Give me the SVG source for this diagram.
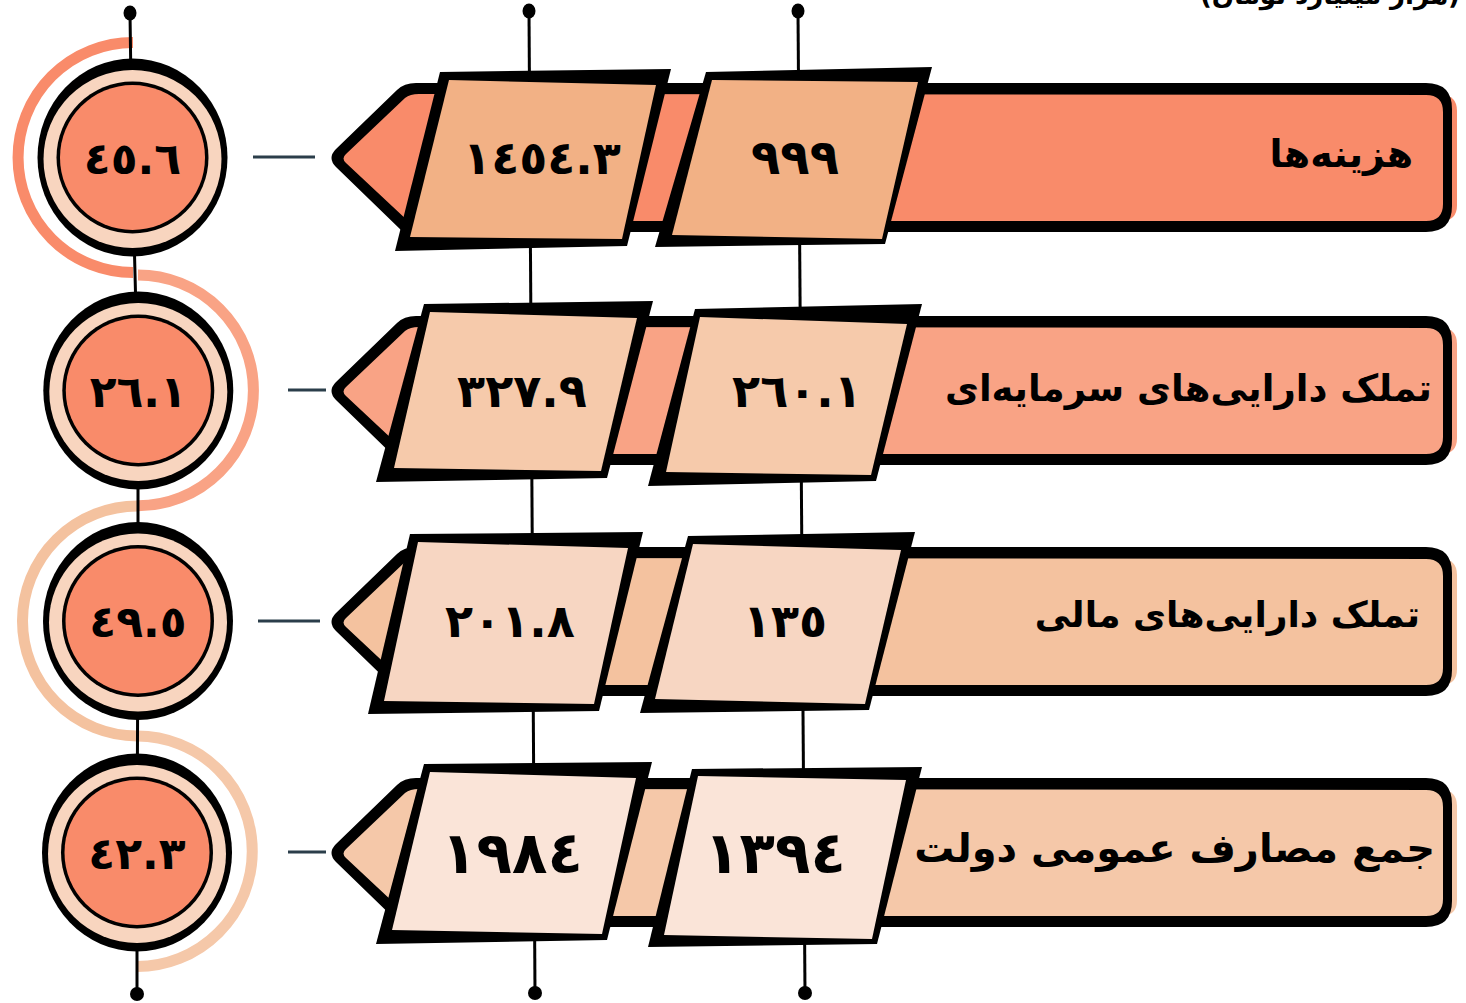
<svg xmlns="http://www.w3.org/2000/svg" width="1466" height="1003" viewBox="0 0 1466 1003">
<style>
.num{font-family:"DejaVu Sans",sans-serif;font-weight:bold;fill:#000;text-anchor:middle}
.lbl{font-family:"DejaVu Sans",sans-serif;font-weight:bold;fill:#000;text-anchor:end}
.blk{fill:#000}
.vline{stroke:#000;stroke-width:3;fill:none}
.dash{stroke:#2B3E4A;stroke-width:3}
.arc{fill:none;stroke-width:11}
.ring{fill:#F8D5BF}
.core{fill:#F98B6A}
</style>
<defs>
<path id="bSliver" d="M 420,-62 L 1441,-62 Q 1457,-62 1457,-46 L 1457,48 Q 1457,64 1441,64 L 420,64 Z"/>
<path id="bBlack" d="M 336,-8 L 397,-67 Q 404,-74 416,-74 L 1426,-74 Q 1452,-74 1452,-48 L 1452,49 Q 1452,75 1426,75 L 403,75 L 336,10 Q 327,1 336,-8 Z"/>
<path id="bFill" d="M 346,-3 L 405,-59 Q 410,-63 419,-63 L 1426,-62 Q 1443,-62 1443,-45 L 1443,47 Q 1443,64 1426,64 L 408,64 L 346,6 Q 341,1.5 346,-3 Z"/>
<g id="badge">
<ellipse cx="0" cy="0" rx="95" ry="99" class="blk"/>
<circle cx="0" cy="1.5" r="89" class="ring"/>
<circle cx="0" cy="0" r="76" class="blk"/>
<circle cx="0" cy="0" r="72.5" class="core"/>
</g>
</defs>

<!-- decorative arcs -->
<g id="arcs">
<path class="arc" stroke="#F98B6A" d="M 133,42.5 A 115,115 0 0 0 133,272.5"/>
<path class="arc" stroke="#F9A385" d="M 138,275 A 115.4,115.4 0 0 1 138,505.8"/>
<path class="arc" stroke="#F4C29F" d="M 138,506 A 115,115 0 0 0 137,736"/>
<path class="arc" stroke="#F5C8A9" d="M 137,736 A 115.2,115.2 0 0 1 137,966.5"/>
</g>

<!-- connectors -->
<g id="connectors">
<polyline class="vline" points="130,13 132,157 138,390 138,621 137,852 137,993"/>
<line class="vline" x1="529" y1="11" x2="535" y2="993"/>
<line class="vline" x1="798" y1="11" x2="805" y2="993"/>
<ellipse cx="130" cy="13" rx="6.5" ry="7.5" class="blk"/>
<ellipse cx="529" cy="11" rx="6.5" ry="7.5" class="blk"/>
<ellipse cx="798" cy="11" rx="6.5" ry="7.5" class="blk"/>
<circle cx="137" cy="994" r="7" class="blk"/>
<circle cx="535" cy="993" r="7" class="blk"/>
<circle cx="805" cy="993" r="7" class="blk"/>
<line class="dash" x1="253" y1="157" x2="315" y2="157"/>
<line class="dash" x1="288" y1="390" x2="326" y2="390"/>
<line class="dash" x1="258" y1="621" x2="320" y2="621"/>
<line class="dash" x1="288" y1="852" x2="326" y2="852"/>
</g>

<!-- circles -->
<g id="circle1" transform="translate(132.5,157.5)"><use href="#badge"/><text class="num" x="0" y="16" font-size="44">٤٥.٦</text></g>
<g id="circle2" transform="translate(138.3,390.5)"><use href="#badge"/><text class="num" x="0" y="16" font-size="44">٢٦.١</text></g>
<g id="circle3" transform="translate(138,621)"><use href="#badge"/><text class="num" x="0" y="16" font-size="44">٤٩.٥</text></g>
<g id="circle4" transform="translate(137,852.5)"><use href="#badge"/><text class="num" x="0" y="16" font-size="44">٤٢.٣</text></g>

<!-- row 1 -->
<g id="row1">
<g transform="translate(0,157)" fill="#F98B6A"><use href="#bSliver"/><use href="#bBlack" fill="#000"/><use href="#bFill"/></g>
<polygon class="blk" points="440,72 671,69 627,246 395,251"/>
<polygon fill="#F2B185" points="449,80 656,85 622,239 410,237"/>
<polygon class="blk" points="706,72 932,67 885,244 655,247"/>
<polygon fill="#F2B185" points="712,80 918,82 882,239 672,235"/>
<text class="num" x="542" y="174" font-size="46">١٤٥٤.٣</text>
<text class="num" x="795" y="174" font-size="48">٩٩٩</text>
<text class="lbl" x="1413" y="167" font-size="38">هزینه&#x200C;ها</text>
</g>

<!-- row 2 -->
<g id="row2">
<g transform="translate(0,390)" fill="#F9A385"><use href="#bSliver"/><use href="#bBlack" fill="#000"/><use href="#bFill"/></g>
<polygon class="blk" points="424,304 653,301 607,478 376,482"/>
<polygon fill="#F6CAAB" points="430,312 637,318 601,471 394,468"/>
<polygon class="blk" points="695,309 922,304 876,481 648,486"/>
<polygon fill="#F6CAAB" points="700,317 907,324 871,475 666,472"/>
<text class="num" x="522" y="407" font-size="46">٣٢٧.٩</text>
<text class="num" x="797" y="407" font-size="46">٢٦٠.١</text>
<text class="lbl" x="1432" y="401" font-size="37">تملک دارایی&#x200C;های سرمایه&#x200C;ای</text>
</g>

<!-- row 3 -->
<g id="row3">
<g transform="translate(0,621)" fill="#F4C29F"><use href="#bSliver"/><use href="#bBlack" fill="#000"/><use href="#bFill"/></g>
<polygon class="blk" points="410,534 643,532 599,711 368,714"/>
<polygon fill="#F7D6C2" points="418,542 628,548 594,704 384,701"/>
<polygon class="blk" points="688,536 915,532 869,710 640,713"/>
<polygon fill="#F7D6C2" points="693,544 901,550 865,704 655,699"/>
<text class="num" x="510" y="637" font-size="46">٢٠١.٨</text>
<text class="num" x="785" y="637" font-size="46">١٣٥</text>
<text class="lbl" x="1420" y="627" font-size="36">تملک دارایی&#x200C;های مالی</text>
</g>

<!-- row 4 -->
<g id="row4">
<g transform="translate(0,852)" fill="#F5C8A9"><use href="#bSliver"/><use href="#bBlack" fill="#000"/><use href="#bFill"/></g>
<polygon class="blk" points="424,764 652,762 607,940 376,944"/>
<polygon fill="#FAE4D8" points="430,772 636,778 602,934 392,930"/>
<polygon class="blk" points="692,769 922,767 877,944 648,947"/>
<polygon fill="#FAE4D8" points="698,776 906,780 872,939 664,935"/>
<text class="num" x="512" y="873" font-size="58">١٩٨٤</text>
<text class="num" x="775" y="873" font-size="58">١٣٩٤</text>
<text class="lbl" x="1435" y="862" font-size="40">جمع مصارف عمومی دولت</text>
</g>

<text class="lbl" x="1460" y="4" font-size="26" font-weight="normal">(هزار میلیارد تومان)</text>
</svg>
